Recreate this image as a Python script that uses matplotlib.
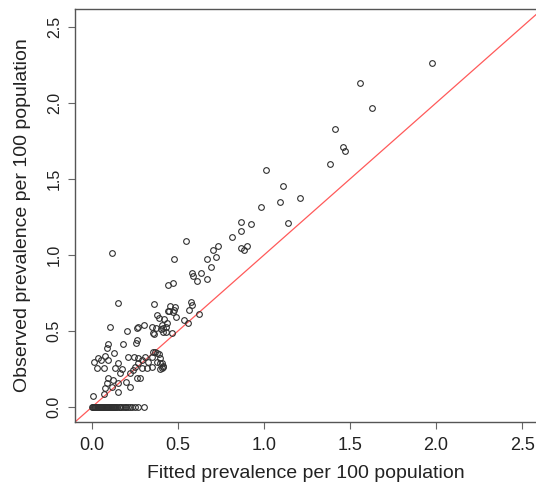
import matplotlib
matplotlib.use("Agg")
import matplotlib.pyplot as plt

plt.rcParams["font.family"] = ["Liberation Sans", "DejaVu Sans"]

# fitted vs observed prevalence (per 100 population)
fitted = [
    1.975, 1.558, 1.626, 1.413, 1.461, 1.468, 1.382, 1.013, 1.109, 0.983,
    1.095, 1.212, 0.924, 1.140, 0.865, 0.865, 0.811, 0.548, 0.733, 0.706,
    0.866, 0.899, 0.885, 0.118, 0.474, 0.719, 0.670, 0.694, 0.632, 0.580,
    0.589, 0.609, 0.670, 0.440, 0.471, 0.153, 0.362, 0.574, 0.583, 0.564,
    0.624, 0.453, 0.483, 0.444, 0.473, 0.488, 0.376, 0.391, 0.535, 0.560,
    0.419, 0.438, 0.430, 0.405, 0.415, 0.347, 0.356, 0.301, 0.269, 0.102,
    0.202, 0.260, 0.360, 0.463, 0.260, 0.256, 0.178, 0.095, 0.089, 0.130,
    0.076, 0.033, 0.012, 0.052, 0.095, 0.027, 0.072, 0.153, 0.134, 0.173,
    0.163, 0.211, 0.246, 0.269, 0.289, 0.308, 0.366, 0.390, 0.347, 0.327,
    0.269, 0.250, 0.289, 0.318, 0.347, 0.376, 0.405, 0.415, 0.395, 0.240,
    0.221, 0.260, 0.196, 0.153, 0.124, 0.095, 0.085, 0.076, 0.115, 0.153,
    0.072, 0.008, 0.221, 0.279, 0.356, 0.376, 0.395, 0.411, 0.405, 0.395,
    0.374, 0.401, 0.415, 0.428, 0.478, 0.448,
]
observed = [
    2.261, 2.134, 1.964, 1.827, 1.713, 1.684, 1.597, 1.559, 1.454, 1.318,
    1.349, 1.373, 1.204, 1.209, 1.219, 1.155, 1.120, 1.092, 1.059, 1.033,
    1.046, 1.061, 1.033, 1.015, 0.972, 0.984, 0.972, 0.921, 0.882, 0.880,
    0.862, 0.829, 0.844, 0.803, 0.814, 0.682, 0.676, 0.693, 0.674, 0.638,
    0.610, 0.664, 0.660, 0.634, 0.627, 0.594, 0.605, 0.584, 0.572, 0.551,
    0.577, 0.551, 0.528, 0.539, 0.495, 0.528, 0.485, 0.539, 0.524, 0.524,
    0.503, 0.522, 0.478, 0.489, 0.441, 0.419, 0.413, 0.413, 0.386, 0.353,
    0.338, 0.320, 0.298, 0.309, 0.309, 0.255, 0.255, 0.288, 0.255, 0.248,
    0.222, 0.331, 0.331, 0.324, 0.309, 0.331, 0.364, 0.347, 0.331, 0.298,
    0.288, 0.265, 0.255, 0.255, 0.265, 0.298, 0.288, 0.265, 0.320, 0.243,
    0.222, 0.189, 0.166, 0.156, 0.178, 0.189, 0.156, 0.123, 0.134, 0.101,
    0.086, 0.072, 0.134, 0.189, 0.364, 0.353, 0.288, 0.270, 0.255, 0.248,
    0.518, 0.511, 0.518, 0.491, 0.638, 0.630,
]

# areas with no observed cases (observed = 0)
fitted_zero = [
    0.000, 0.004, 0.008, 0.012, 0.016, 0.020, 0.025, 0.030, 0.035, 0.040,
    0.045, 0.050, 0.055, 0.060, 0.065, 0.070, 0.075, 0.080, 0.085, 0.090,
    0.095, 0.100, 0.105, 0.110, 0.115, 0.120, 0.125, 0.130, 0.135, 0.140,
    0.148, 0.155, 0.163, 0.170, 0.180, 0.190, 0.200, 0.210, 0.222, 0.235,
    0.250, 0.265, 0.302,
]
observed_zero = [0.0] * len(fitted_zero)

ticks = [0.0, 0.5, 1.0, 1.5, 2.0, 2.5]

fig = plt.figure(figsize=(5.36, 4.91), dpi=100)
ax = fig.add_axes([0.1399, 0.1405, 0.8601, 0.8412])

ax.axline((0, 0), slope=1, color="#ff5a5a", linewidth=0.9, zorder=1)

marker_style = dict(
    linestyle="none", marker="o", markersize=4.1, markerfacecolor="none",
    markeredgecolor="#303030", markeredgewidth=0.8, zorder=2,
)
ax.plot(fitted, observed, **marker_style)
ax.plot(fitted_zero, observed_zero, **marker_style)

ax.set_xlim(-0.0988, 2.581)
ax.set_ylim(-0.0987, 2.618)
ax.set_xticks(ticks)
ax.set_yticks(ticks)
ax.set_xticklabels([f"{t:.1f}" for t in ticks])
ax.set_yticklabels([f"{t:.1f}" for t in ticks], rotation=90, va="center")
ax.tick_params(axis="both", direction="out", length=5, width=0.8,
               color="#666666", labelcolor="#222222")
ax.tick_params(axis="x", labelsize=13, pad=6)
ax.tick_params(axis="y", labelsize=11.5, pad=4.5)

for side in ["left", "top", "bottom"]:
    ax.spines[side].set_color("#555555")
    ax.spines[side].set_linewidth(1.0)
ax.spines["right"].set_visible(False)

ax.set_xlabel("Fitted prevalence per 100 population", fontsize=14,
              color="#222222")
ax.set_ylabel("Observed prevalence per 100 population", fontsize=14,
              color="#222222")
ax.xaxis.set_label_coords(0.5, -0.104)
ax.yaxis.set_label_coords(-0.095, 0.5)

fig.savefig("out.png", dpi=100)
